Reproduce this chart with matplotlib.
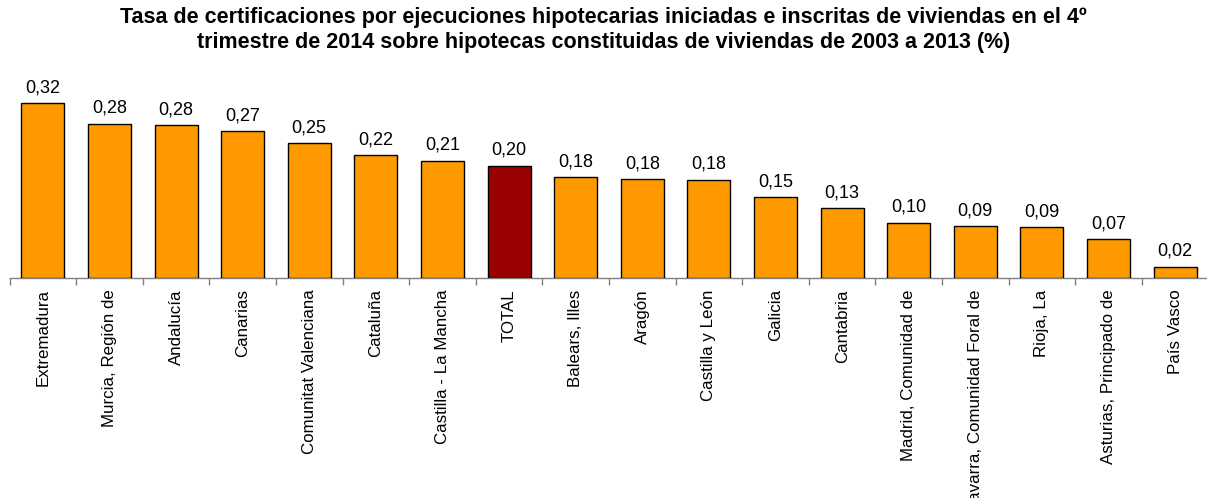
import matplotlib
matplotlib.use("Agg")
import matplotlib.pyplot as plt

plt.rcParams['font.family'] = ['Liberation Sans', 'DejaVu Sans']

categories = ["Extremadura", "Murcia, Región de", "Andalucía", "Canarias",
              "Comunitat Valenciana", "Cataluña", "Castilla - La Mancha", "TOTAL",
              "Balears, Illes", "Aragón", "Castilla y León", "Galicia", "Cantabria",
              "Madrid, Comunidad de", "Navarra, Comunidad Foral de", "Rioja, La",
              "Asturias, Principado de", "País Vasco"]
values = [0.319, 0.282, 0.279, 0.268, 0.246, 0.224, 0.214, 0.205, 0.184,
          0.180, 0.179, 0.147, 0.127, 0.100, 0.094, 0.092, 0.070, 0.020]
highlight = "TOTAL"

title = ("Tasa de certificaciones por ejecuciones hipotecarias iniciadas e inscritas de viviendas en el 4º\n"
         "trimestre de 2014 sobre hipotecas constituidas de viviendas de 2003 a 2013 (%)")

W, H = 1207, 498
fig = plt.figure(figsize=(W / 100, H / 100), dpi=100)
ymax = 0.40
base_px = 277.5
scale = 546.0
top_px = base_px - ymax * scale
left_px, right_px = 9.5, 1208.5
ax = fig.add_axes([left_px / W, 1 - base_px / H, (right_px - left_px) / W, (base_px - top_px) / H])

x = list(range(len(categories)))
colors = ["#990000" if c == highlight else "#FF9900" for c in categories]
bars = ax.bar(x, values, width=0.645, color=colors, edgecolor="black", linewidth=1.0, zorder=3)
for xi, v in zip(x, values):
    ax.annotate(f"{v:.2f}".replace(".", ","), (xi, v), xytext=(0, 5), textcoords="offset points",
                ha="center", va="bottom", fontsize=13, color="black")

ax.set_xlim(-0.5, len(categories) - 0.5)
ax.set_ylim(0, ymax)
for s in ["top", "right", "left"]:
    ax.spines[s].set_visible(False)
ax.spines["bottom"].set_color("#808080")
ax.spines["bottom"].set_linewidth(1.0)
ax.set_yticks([])
ax.set_xticks([i - 0.5 for i in range(len(categories) + 1)], minor=False)
ax.set_xticklabels([])
ax.tick_params(axis="x", which="major", length=5, color="#808080", width=1.0)
ax.set_xticks(x, minor=True)
ax.set_xticklabels(categories, minor=True, rotation=90, fontsize=12.2, va="top", ha="center")
ax.tick_params(axis="x", which="minor", length=0, pad=8.5)

fig.text(0.5, 1 - 30 / H, title, ha="center", va="center", fontsize=15.5, fontweight="bold",
         linespacing=1.3)

fig.savefig("out.png", dpi=100)
